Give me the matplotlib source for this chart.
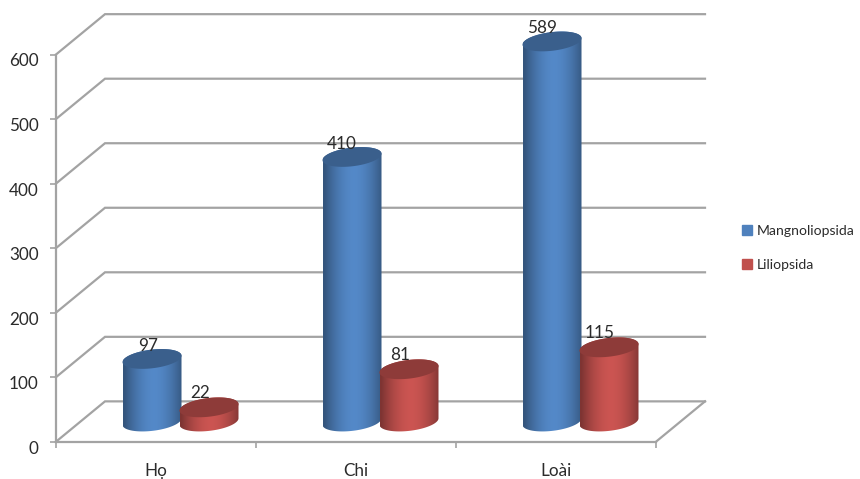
import numpy as np
import matplotlib
matplotlib.use('Agg')
import matplotlib.pyplot as plt
from matplotlib.patches import Polygon, Patch
from matplotlib.transforms import ScaledTranslation

categories = ['Họ', 'Chi', 'Loài']
mangnoliopsida = [97, 410, 589]
liliopsida = [22, 81, 115]
y_ticks = [0, 100, 200, 300, 400, 500, 600]

BLUE = '#4f81bd'
RED = '#c0504d'
GRID = '#a3a3a3'
TEXT = '#2b2b2b'
FONT_SIZE = 12.3

# depth of the floor, in axis units
DEPTH_X = 0.245
DEPTH_Y = 62.5
# cylinder shape, in axis units
RX = 0.1475
RY = 14.5
TILT = 5.0
SHIFT = 0.1425

plt.rcParams['font.family'] = ['Lato', 'DejaVu Sans']


def shade(hex_color, factor):
    rgb = np.array(matplotlib.colors.to_rgb(hex_color))
    return tuple(rgb * factor)


def cylinder(ax, cx, base, value, color, z):
    t_up = np.linspace(0, np.pi, 80)
    t_down = np.linspace(np.pi, 2 * np.pi, 80)
    top = base + value
    xs = np.r_[cx + RX * np.cos(t_up), cx + RX * np.cos(t_down)]
    ys = np.r_[top + RY * np.sin(t_up) + TILT * np.cos(t_up),
               base + RY * np.sin(t_down) + TILT * np.cos(t_down)]
    body = Polygon(np.c_[xs, ys], closed=True, transform=ax.transData, fc='none', ec='none')
    ax.add_patch(body)

    # horizontal gradient: dark at the edges, brightest near the middle
    u = np.linspace(-1, 1, 120)
    light = 0.66 + 0.40 * (1 - np.abs(u - 0.05) ** 1.8).clip(0, 1)
    rgb = np.array(matplotlib.colors.to_rgb(color))
    img = np.clip(rgb[None, None, :] * light[None, :, None], 0, 1)
    im = ax.imshow(img, extent=(cx - RX, cx + RX, base - 30, top + 30), aspect='auto',
                   zorder=z, interpolation='bilinear')
    # tall cylinders rise past the 600 line, so only the body shape clips them
    im.set_clip_box(fig.bbox)
    im.set_clip_path(body)

    t = np.linspace(0, 2 * np.pi, 160)
    cap = np.c_[cx + RX * np.cos(t), top + RY * np.sin(t) + TILT * np.cos(t)]
    ax.add_patch(Polygon(cap, closed=True, fc=shade(color, 0.74), ec='none', zorder=z + 0.1,
                         clip_on=False))


fig = plt.figure(figsize=(8.6, 4.79), dpi=100)
ax = fig.add_axes([56 / 860, 1 - 441.7 / 479, 600 / 860, 387.2 / 479])

x = np.arange(len(categories))

# side wall, back wall and floor lines
for v in y_ticks:
    ax.plot([0, DEPTH_X, 3 + DEPTH_X], [v, v + DEPTH_Y, v + DEPTH_Y],
            color=GRID, lw=1.6, clip_on=False, zorder=1, solid_joinstyle='miter')
ax.plot([3, 3 + DEPTH_X], [0, DEPTH_Y], color=GRID, lw=1.6, clip_on=False, zorder=1)

base = DEPTH_Y / 2
centers = x + 0.5 + DEPTH_X / 2
for i in x:
    cylinder(ax, centers[i] - SHIFT, base, mangnoliopsida[i], BLUE, 3 + i)
    cylinder(ax, centers[i] + SHIFT, base, liliopsida[i], RED, 3.5 + i)

# data labels sit up and to the left of the cylinder tops
for i in x:
    blue_dx = -4 if i == 0 else -10
    ax.annotate(str(mangnoliopsida[i]), (centers[i] - SHIFT, base + mangnoliopsida[i]),
                xytext=(blue_dx * 0.72, 9.5), textcoords='offset points', ha='center', va='center',
                fontsize=FONT_SIZE, color=TEXT, zorder=10, annotation_clip=False)
    ax.annotate(str(liliopsida[i]), (centers[i] + SHIFT, base + liliopsida[i]),
                xytext=(-6.5, 10), textcoords='offset points', ha='center', va='center',
                fontsize=FONT_SIZE, color=TEXT, zorder=10, annotation_clip=False)

ax.set_xlim(0, 3)
ax.set_ylim(0, 600)
ax.patch.set_alpha(0)

for side in ['top', 'right']:
    ax.spines[side].set_visible(False)
for side in ['left', 'bottom']:
    ax.spines[side].set_color(GRID)
    ax.spines[side].set_linewidth(1.6)

ax.set_yticks(y_ticks)
ax.set_xticks([0, 1, 2, 3])
ax.set_xticklabels([])
ax.set_xticks(x + 0.5, minor=True)
ax.set_xticklabels(categories, minor=True)
ax.tick_params(axis='x', which='major', length=4.5, width=1.2, color=GRID)
ax.tick_params(axis='x', which='minor', length=0, pad=15, labelsize=FONT_SIZE, labelcolor=TEXT)
ax.tick_params(axis='y', length=4.5, width=1.2, color=GRID, pad=8, labelsize=FONT_SIZE, labelcolor=TEXT)

# the value labels hang a little below their ticks
drop = ScaledTranslation(0, -5.5 / 100, fig.dpi_scale_trans)
for label in ax.get_yticklabels():
    label.set_transform(label.get_transform() + drop)

handles = [Patch(color=BLUE, label='Mangnoliopsida'), Patch(color=RED, label='Liliopsida')]
fig.legend(handles=handles, loc='center left', bbox_to_anchor=(738 / 860, 1 - 248 / 479),
           frameon=False, fontsize=10.1, handlelength=0.7, handleheight=0.7, handletextpad=0.32,
           labelspacing=1.55, labelcolor=TEXT, borderpad=0.3, borderaxespad=0)

fig.savefig('out.png', dpi=100)
